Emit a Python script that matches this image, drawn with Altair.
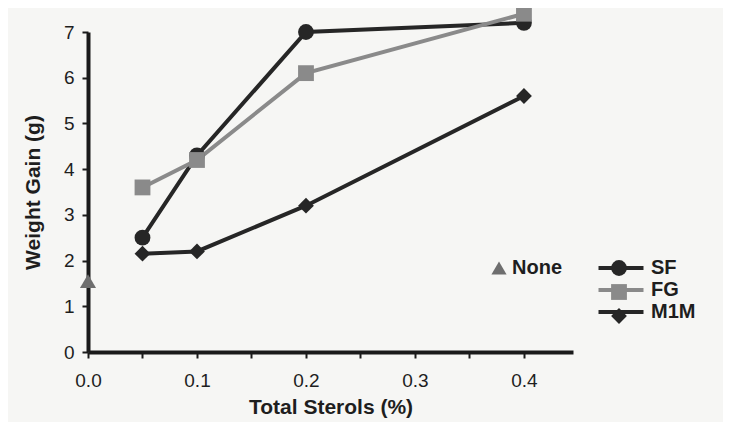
import altair as alt
import pandas as pd

# data
x_vals = [0.05, 0.1, 0.2, 0.4]
sf = [2.5, 4.3, 7.0, 7.2]
fg = [3.6, 4.2, 6.1, 7.4]
m1m = [2.15, 2.2, 3.2, 5.6]
none_x = [0.0]
none_y = [1.55]
series = ["SF", "FG", "M1M"]
series_colors = ["#262626", "#8a8a8a", "#262626"]
series_shapes = ["circle", "square", "diamond"]
x_ticks = [0, 0.05, 0.1, 0.15, 0.2, 0.25, 0.3, 0.35, 0.4]
y_ticks = [0, 0.5, 1, 1.5, 2, 2.5, 3, 3.5, 4, 4.5, 5, 5.5, 6, 6.5, 7]

rows = []
for name, vals in zip(series, [sf, fg, m1m]):
    for x, y in zip(x_vals, vals):
        rows.append({"x": x, "y": y, "series": name})
df = pd.DataFrame(rows)
df_none = pd.DataFrame({"x": none_x, "y": none_y, "series": ["None"]})

FONT = "Liberation Sans"
TXT = "#1e1e1e"

xscale = alt.Scale(domain=[0, 0.445], nice=False, zero=False)
yscale = alt.Scale(domain=[0, 7], nice=False)

xenc = alt.X("x:Q", scale=xscale,
             axis=alt.Axis(title="Total Sterols (%)", values=x_ticks,
                           labelExpr="(round(datum.value*100) % 10 == 0) ? format(datum.value, '.1f') : ''",
                           grid=False))
yenc = alt.Y("y:Q", scale=yscale,
             axis=alt.Axis(title="Weight Gain (g)", values=y_ticks,
                           labelExpr="(datum.value % 1 == 0) ? format(datum.value, 'd') : ''",
                           grid=False))

cscale = alt.Scale(domain=series, range=series_colors)
leg_common = dict(title=None, orient="none", padding=0, rowPadding=2,
                  labelFontSize=20, labelFont=FONT, labelFontWeight="bold", labelColor=TXT)

lines = alt.Chart(df).mark_line(strokeWidth=4).encode(
    x=xenc, y=yenc,
    color=alt.Color("series:N", scale=cscale,
                    legend=alt.Legend(legendX=523, legendY=226, symbolType="M-5,0H5",
                                      symbolSize=81, symbolStrokeWidth=4, labelOffset=20,
                                      **leg_common)),
    order="x:Q",
)

points = alt.Chart(df).mark_point(filled=True, size=250, opacity=1).encode(
    x="x:Q", y="y:Q",
    color=alt.Color("series:N", scale=cscale,
                    legend=alt.Legend(legendX=521, legendY=226, symbolSize=250, symbolOpacity=1,
                                      labelExpr="' '", labelOffset=0, **leg_common)),
    shape=alt.Shape("series:N", scale=alt.Scale(domain=series, range=series_shapes)),
)

none_pts = alt.Chart(df_none).mark_point(filled=True, size=260, opacity=1, shape="triangle-up").encode(
    x="x:Q", y="y:Q",
    fill=alt.Fill("series:N", scale=alt.Scale(domain=["None"], range=["#6e6e6e"]),
                  legend=alt.Legend(legendX=401, legendY=226, symbolType="triangle-up",
                                    symbolSize=230, symbolOpacity=1, labelOffset=3,
                                    **leg_common)),
)

chart = alt.layer(lines, points, none_pts).resolve_scale(
    color="independent", shape="independent", fill="independent"
).properties(
    width=485, height=320, background="#f6f6f4",
    autosize=alt.AutoSizeParams(type="none"),
    padding={"left": 80, "top": 24, "right": 150, "bottom": 70},
).configure_view(stroke=None).configure_axis(
    domainColor="#1a1a1a", domainWidth=4, tickColor="#1a1a1a", tickWidth=2, tickSize=6,
    labelFont=FONT, labelFontSize=19, labelColor=TXT,
    titleFont=FONT, titleFontSize=21, titleFontWeight="bold", titleColor=TXT,
).configure_axisY(titlePadding=20, labelPadding=8, labelFlush=False).configure_axisX(
    titlePadding=6, labelPadding=13, labelFlush=False)

chart.save("out.html", embed_options={"renderer": "svg", "actions": False})
